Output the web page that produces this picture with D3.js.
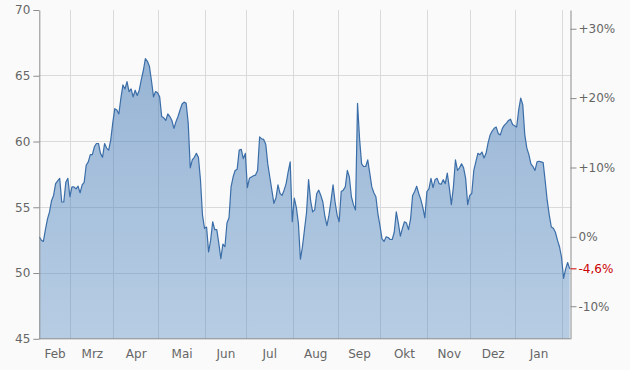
<!DOCTYPE html>
<html><head><meta charset="utf-8">
<script src="https://cdn.jsdelivr.net/npm/d3@7"></script>
<style>
html,body{margin:0;padding:0;background:#fafafa;}
svg{display:block;}
text{font-family:"DejaVu Sans",Verdana,sans-serif;}
</style></head><body>
<svg id="chart" width="630" height="370"></svg>
<script>
// ---- data ----
const firstDay = "2024-02-08";           // first trading day shown (weekdays only)
const monthNames = ["Jan","Feb","Mrz","Apr","Mai","Jun","Jul","Aug","Sep","Okt","Nov","Dez"];
const priceTicks = [45, 50, 55, 60, 65, 70];
const percentTicks = [-0.10, 0, 0.10, 0.20, 0.30];
const prices = [
52.75,52.5,52.4,53.3,54.1,54.65,55.5,55.9,56.8,57.0,
57.2,55.4,55.4,56.9,57.2,55.8,56.55,56.55,56.4,56.6,
56.1,56.7,56.9,58.2,58.45,59.0,59.0,59.6,59.85,59.85,
59.1,58.8,59.85,59.5,59.35,60.1,61.4,62.5,62.4,62.1,
63.3,64.3,64.0,64.55,63.8,64.0,63.4,63.9,63.5,63.9,
64.7,65.4,66.3,66.1,65.7,64.6,63.4,63.8,63.7,63.4,
61.9,61.8,61.6,62.1,61.9,61.6,61.0,61.5,61.9,62.4,
62.85,63.0,62.9,61.4,58.0,58.6,58.8,59.1,58.8,57.1,
54.4,53.4,53.5,51.6,52.5,53.9,53.3,53.3,52.25,51.1,
52.2,52.0,53.8,54.2,56.55,57.3,57.8,57.9,59.35,59.4,
58.7,59.1,56.5,57.2,57.3,57.4,57.45,57.8,60.35,60.2,
60.16,59.8,58.3,57.3,56.3,55.3,55.7,56.7,56.05,55.9,
56.3,56.8,57.7,58.45,53.9,55.7,55.0,53.8,51.05,52.0,
53.3,54.6,57.1,55.5,54.65,54.8,56.05,56.3,55.9,55.4,
54.3,53.6,54.4,55.5,56.7,55.4,54.4,53.9,56.2,56.3,
56.55,57.8,57.3,55.8,55.2,54.8,62.9,60.2,58.3,58.1,
58.1,58.6,57.6,56.55,56.1,55.8,54.5,53.6,52.6,52.4,
52.75,52.7,52.55,52.55,53.1,54.65,53.8,52.8,53.4,53.9,
53.8,53.3,54.1,55.9,56.2,56.6,56.05,55.6,55.0,54.2,
56.2,56.4,57.2,56.5,57.1,57.2,56.8,56.75,57.1,56.8,
57.6,56.5,55.2,56.55,58.6,57.8,58.0,58.3,58.0,57.2,
55.2,55.9,56.05,57.8,58.45,59.1,59.0,59.2,58.75,59.1,
59.9,60.5,60.8,61.0,61.1,60.6,60.5,61.0,61.25,61.4,
61.6,61.7,61.3,61.2,61.1,62.4,63.3,62.8,60.5,59.5,
59.0,58.3,58.1,57.8,58.45,58.5,58.45,58.4,57.0,55.5,
54.4,53.5,53.4,53.1,52.5,52.0,51.2,49.6,50.3,50.8,
50.32
];

// ---- layout ----
const plot = {left: 39.3, right: 570.5, top: 10, bottom: 338.8};
const svg = d3.select("#chart");
const weekday = d3.timeDay.filter(d => d.getDay() !== 0 && d.getDay() !== 6);
const start = d3.timeParse("%Y-%m-%d")(firstDay);
const dates = prices.map((_, i) => weekday.offset(start, i));
const n = prices.length;

const x = d3.scaleLinear().domain([0, n - 0.6]).range([plot.left, plot.right]);
const y = d3.scaleLinear().domain([45, 70]).range([plot.bottom, plot.top]);
const base = prices[0];
const yPct = d3.scaleLinear().domain(y.domain().map(v => v / base - 1)).range(y.range());

// month boundaries (between last weekday of a month and first of the next)
const monthStarts = d3.timeMonth.range(d3.timeMonth.ceil(start), dates[n - 1]);
const boundaries = monthStarts.map(m => d3.bisectLeft(dates, m) - 0.5);

const gridColor = "#dadada";
const axisColor = "#8c8c8c";
const textColor = "#666";

// background
svg.append("rect").attr("width", 630).attr("height", 370).attr("fill", "#fafafa");

// grid
const grid = svg.append("g");
grid.selectAll("line.h").data(priceTicks.filter(v => v > 45 && v < 70)).join("line")
  .attr("x1", plot.left).attr("x2", plot.right)
  .attr("y1", d => y(d)).attr("y2", d => y(d))
  .attr("stroke", gridColor).attr("stroke-width", 1).attr("shape-rendering", "crispEdges");
grid.selectAll("line.v").data(boundaries).join("line")
  .attr("x1", d => x(d)).attr("x2", d => x(d))
  .attr("y1", plot.top).attr("y2", plot.bottom)
  .attr("stroke", gridColor).attr("stroke-width", 1).attr("shape-rendering", "crispEdges");

// gradient
const defs = svg.append("defs");
const grad = defs.append("linearGradient").attr("id", "areaGrad")
  .attr("gradientUnits", "userSpaceOnUse")
  .attr("x1", 0).attr("x2", 0).attr("y1", plot.top).attr("y2", plot.bottom);
grad.append("stop").attr("offset", "0%").attr("stop-color", "rgb(62,116,178)").attr("stop-opacity", 0.55);
grad.append("stop").attr("offset", "100%").attr("stop-color", "rgb(72,130,190)").attr("stop-opacity", 0.38);

const area = d3.area().x((d, i) => x(i)).y0(plot.bottom).y1(d => y(d));
const line = d3.line().x((d, i) => x(i)).y(d => y(d));

svg.append("path").datum(prices).attr("d", area).attr("fill", "url(#areaGrad)");
svg.append("path").datum(prices).attr("d", line)
  .attr("fill", "none").attr("stroke", "#3b6ea8").attr("stroke-width", 1.2)
  .attr("stroke-linejoin", "round");

// axes
function styleAxis(g) {
  g.attr("font-family", "DejaVu Sans, Verdana, sans-serif").attr("font-size", 12);
  g.selectAll("path.domain").attr("stroke", axisColor);
  g.selectAll(".tick line").attr("stroke", axisColor);
  g.selectAll(".tick text").attr("fill", textColor);
}

svg.append("g").attr("transform", `translate(${plot.left},0)`)
  .call(d3.axisLeft(y).tickValues(priceTicks).tickSize(6).tickPadding(3).tickSizeOuter(0))
  .call(styleAxis);

const fmtPct = p => { const r = Math.round(p * 100); return (r > 0 ? "+" : "") + r + "%"; };
svg.append("g").attr("transform", `translate(${plot.right},0)`)
  .call(d3.axisRight(yPct).tickValues(percentTicks).tickFormat(fmtPct).tickSize(6).tickPadding(2).tickSizeOuter(0))
  .call(styleAxis);

// last value marker on right axis
const last = prices[n - 1];
const lastPct = (last / base - 1) * 100;
const lastLabel = (lastPct > 0 ? "+" : "") + lastPct.toFixed(1).replace(".", ",") + "%";
const lastG = svg.append("g").attr("transform", `translate(${plot.right},${y(last)})`);
lastG.append("line").attr("x1", 0).attr("x2", 6).attr("stroke", "#cc0000");
lastG.append("text").attr("x", 8).attr("dy", "0.32em").attr("fill", "#cc0000")
  .attr("font-size", 12).text(lastLabel);

// bottom axis line
svg.append("line").attr("x1", plot.left).attr("x2", plot.right)
  .attr("y1", plot.bottom).attr("y2", plot.bottom).attr("stroke", axisColor);

// month labels centred in their month segment
const edges = [plot.left, ...boundaries.map(b => x(b)), plot.right];
const segMonths = [start, ...monthStarts];
const segs = segMonths.map((m, k) => ({m, x0: edges[k], x1: edges[k + 1]}))
  .filter(s => s.x1 - s.x0 > 20);
svg.append("g").selectAll("text").data(segs).join("text")
  .attr("x", s => (s.x0 + s.x1) / 2).attr("y", 358)
  .attr("text-anchor", "middle").attr("font-size", 12).attr("fill", textColor)
  .text(s => monthNames[s.m.getMonth()]);
</script>
</body></html>
